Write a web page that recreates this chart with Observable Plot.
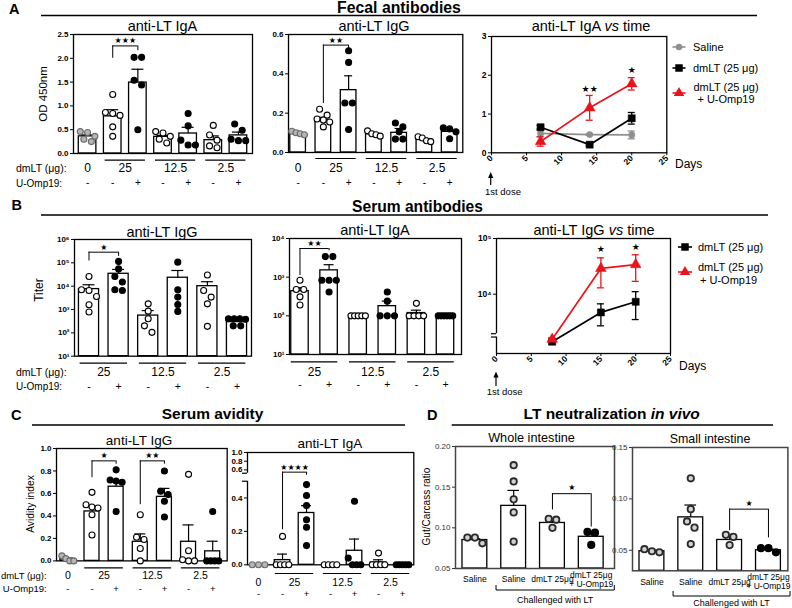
<!DOCTYPE html>
<html><head><meta charset="utf-8">
<script src="https://cdn.jsdelivr.net/npm/d3@7"></script>
<script src="https://cdn.jsdelivr.net/npm/@observablehq/plot@0.6"></script>
<style>
html,body{margin:0;padding:0;background:#fff;}
#root{position:relative;width:792px;height:608px;overflow:hidden;background:#fff;}
</style></head><body><div id="root"></div><script>
// ---------------- DATA ----------------
const bars7 = ["0 -", "25 -", "25 +", "12.5 -", "12.5 +", "2.5 -", "2.5 +"];
const omp7 = ["-", "-", "+", "-", "+", "-", "+"];
const dose7 = ["0", "25", "12.5", "2.5"];
const bars6 = ["25 -", "25 +", "12.5 -", "12.5 +", "2.5 -", "2.5 +"];
const omp6 = ["-", "+", "-", "+", "-", "+"];
const dose6 = ["25", "12.5", "2.5"];

// A – fecal anti-LT IgA (OD 450nm)
const fecalIgA_mean = [0.36, 0.78, 1.49, 0.35, 0.42, 0.28, 0.38];
const fecalIgA_sem = [0.03, 0.14, 0.28, 0.03, 0.13, 0.09, 0.07];
const fecalIgA_pts = [
  [0.46, 0.44, 0.36, 0.30, 0.25],
  [1.24, 0.86, 0.84, 0.80, 0.56, 0.36],
  [2.02, 2.02, 1.54, 1.44, 0.50],
  [0.46, 0.43, 0.36, 0.30, 0.22],
  [0.84, 0.58, 0.28, 0.18, 0.18],
  [0.59, 0.39, 0.28, 0.16, 0.12],
  [0.62, 0.49, 0.30, 0.27, 0.27]];
const fecalIgA_sig = [{from: "25 -", to: "25 +", top: 2.26, left: 2.0, right: 2.16, stars: "★★★"}];

// A – fecal anti-LT IgG
const fecalIgG_mean = [0.095, 0.165, 0.317, 0.093, 0.10, 0.066, 0.105];
const fecalIgG_sem = [0.005, 0.014, 0.073, 0.006, 0.022, 0.007, 0.014];
const fecalIgG_pts = [
  [0.108, 0.10, 0.095, 0.09],
  [0.22, 0.19, 0.17, 0.165, 0.155, 0.13],
  [0.517, 0.458, 0.252, 0.252, 0.117],
  [0.11, 0.095, 0.09, 0.083],
  [0.15, 0.13, 0.105, 0.068, 0.068],
  [0.08, 0.074, 0.06, 0.055],
  [0.125, 0.12, 0.105, 0.07]];
const fecalIgG_sig = [{from: "25 -", to: "25 +", top: 0.546, left: 0.249, right: 0.529, stars: "★★"}];

// A – fecal anti-LT IgA vs time
const fecalDays = [7, 14, 20];
const fecalSaline_mean = [0.50, 0.47, 0.46], fecalSaline_sem = [0.08, 0.02, 0.10];
const fecalDmLT_mean = [0.66, 0.21, 0.89], fecalDmLT_sem = [0.05, 0.03, 0.15];
const fecalOmp_mean = [0.29, 1.16, 1.78], fecalOmp_sem = [0.12, 0.32, 0.16];
const fecalTime_sig = [{day: 14, y: 1.65, stars: "★★"}, {day: 20, y: 2.14, stars: "★"}];

// B – serum anti-LT IgG (titer)
const serumIgG_mean = [7500, 34000, 550, 23000, 10000, 290];
const serumIgG_sem = [4000, 18000, 350, 24000, 5500, 40];
const serumIgG_pts = [
  [26000, 7000, 6500, 3600, 1600, 780],
  [115000, 55000, 26000, 15000, 7000, 6500],
  [1750, 850, 400, 200, 105],
  [107000, 7000, 3400, 1650, 830],
  [30000, 6500, 3400, 1750, 190],
  [400, 400, 400, 380, 200, 200]];
const serumIgG_sig = [{from: "25 -", to: "25 +", top: 2.86e5, left: 1.2e5, right: 1.9e5, stars: "★"}];

// B – serum anti-LT IgA
const serumIgA_mean = [435, 1500, 100, 178, 118, 100];
const serumIgA_sem = [95, 600, 0, 62, 22, 0];
const serumIgA_pts = [
  [830, 480, 480, 310, 190],
  [3400, 3400, 830, 830, 830, 415],
  [100, 100, 100, 100, 100],
  [415, 240, 100, 100, 100],
  [210, 100, 100, 100, 100],
  [100, 100, 100, 100, 100, 100]];
const serumIgA_sig = [{from: "25 -", to: "25 +", top: 5500, left: 1100, right: 4800, stars: "★★"}];

// B – serum anti-LT IgG vs time
const serumDays = [8, 15, 20];
const serumDmLT_mean = [1400, 4700, 7300], serumDmLT_sem = [120, 2000, 3800];
const serumOmp_mean = [1550, 29000, 34000], serumOmp_sem = [100, 16000, 17000];
const serumTime_sig = [{day: 15, y: 64500, stars: "★"}, {day: 20, y: 71000, stars: "★"}];

// C – avidity index
const avidIgG_mean = [0.015, 0.44, 0.66, 0.17, 0.57, 0.17, 0.085];
const avidIgG_sem = [0.01, 0.047, 0.05, 0.07, 0.075, 0.15, 0.09];
const avidIgG_pts = [
  [0.045, 0.02, 0.0, 0.0],
  [0.61, 0.50, 0.48, 0.47, 0.41, 0.23],
  [0.81, 0.72, 0.71, 0.70, 0.44],
  [0.41, 0.21, 0.19, 0.11, 0.0],
  [0.80, 0.62, 0.59, 0.53, 0.39],
  [0.77, 0.09, 0.01, 0.0, 0.0],
  [0.44, 0.0, 0.0, 0.0, 0.0]];
const avidIgG_sig = [
  {from: "25 -", to: "25 +", top: 0.89, left: 0.74, right: 0.86, stars: "★"},
  {from: "12.5 -", to: "12.5 +", top: 0.89, left: 0.50, right: 0.86, stars: "★★"}];

const avidIgA_mean = [0, 0.028, 0.31, 0, 0.084, 0.014, 0];
const avidIgA_sem = [0, 0.036, 0.044, 0, 0.07, 0.016, 0];
const avidIgA_pts = [
  [0, 0, 0],
  [0.17, 0, 0, 0, 0],
  [0.48, 0.415, 0.355, 0.27, 0.225, 0.115],
  [0, 0, 0, 0],
  [0.38, 0.04, 0, 0, 0],
  [0.07, 0, 0, 0, 0],
  [0, 0, 0, 0, 0]];
const avidIgA_sig = [{from: "25 -", to: "25 +", top: 0.58, left: 0.21, right: 0.553, stars: "★★★★"}];
const avidIgA_ticks = [0, 0.2, 0.4, 0.6, 0.8, 1.0];

// D – LT neutralization in vivo
const neutCats = ["Saline", "Saline LT", "dmLT 25μg LT", "dmLT 25μg + U-Omp19 LT"];
const neutLabels = ["Saline", "Saline", "dmLT 25μg", "dmLT 25μg\n+ U-Omp19"];
const neutWhole_mean = [0.085, 0.127, 0.106, 0.089];
const neutWhole_sem = [0.0015, 0.019, 0.002, 0.006];
const neutWhole_pts = [[0.088, 0.081, 0.088], [0.177, 0.157, 0.135, 0.119, 0.083], [0.111, 0.110, 0.100], [0.095, 0.094, 0.079]];
const neutWhole_sig = [{from: "dmLT 25μg LT", to: "dmLT 25μg + U-Omp19 LT", top: 0.142, left: 0.122, right: 0.101, stars: "★"}];
const neutSmall_mean = [0.049, 0.082, 0.060, 0.050];
const neutSmall_sem = [0.001, 0.012, 0.003, 0.001];
const neutSmall_pts = [[0.051, 0.048, 0.049], [0.120, 0.090, 0.078, 0.072, 0.056], [0.065, 0.063, 0.055], [0.052, 0.052, 0.048]];
const neutSmall_sig = [{from: "dmLT 25μg LT", to: "dmLT 25μg + U-Omp19 LT", top: 0.090, left: 0.069, right: 0.062, stars: "★"}];

// ---------------- STYLE / HELPERS ----------------
const FONT = '"Liberation Sans", Arial, Helvetica, sans-serif';
const NARROW = '"Liberation Sans Narrow", "Arial Narrow", "Liberation Sans", sans-serif';
const STARF = '"DejaVu Sans", sans-serif';
const RED = "#e8141c", GREY = "#8f8f8f";
const FILL = {grey: "#b5b5b5", open: "white", filled: "black", ring: "#d2d2d2"};
const STROKE = {grey: "#6b6b6b", open: "black", filled: "black", ring: "#2a2a2a"};
const kinds7 = ["grey", "open", "filled", "open", "filled", "open", "filled"];
const kinds6 = ["open", "filled", "open", "filled", "open", "filled"];
const root = document.getElementById("root");

function groupsOf(cats, doses) {
  return doses.map(g => {
    const idx = cats.map((c, i) => c.split(" ")[0] === g ? i : -1).filter(i => i >= 0);
    return {label: g, a: idx[0], b: idx[idx.length - 1]};
  });
}
function sigOf(cats, sig) {
  return sig.map(s => ({a: cats.indexOf(s.from), b: cats.indexOf(s.to), top: s.top, lb: s.left, rb: s.right, stars: s.stars}));
}
function swarm(pys, gap, maxSpan) {
  const order = pys.map((p, i) => i).sort((a, b) => pys[a] - pys[b]);
  const off = pys.map(() => 0);
  let cl = [], start = 0;
  const flush = () => {
    const m = cl.length;
    const sp = m > 1 ? Math.min(gap, maxSpan / (m - 1)) : 0;
    cl.forEach((idx, k) => off[idx] = (k - (m - 1) / 2) * sp);
    cl = [];
  };
  for (const i of order) {
    if (cl.length && pys[i] - start > gap * 0.9) flush();
    if (!cl.length) start = pys[i];
    cl.push(i);
  }
  flush();
  return off;
}
function mount(plot, left, top) {
  plot.style.position = "absolute";
  plot.style.left = left + "px";
  plot.style.top = top + "px";
  root.appendChild(plot);
}

function barPanel(c) {
  const [x0, y0, x1, y1] = c.frame;
  const mL = 34, mR = 6, mT = 6, mB = 46;
  const W = x1 - x0, H = y1 - y0;
  const tf = c.tf || (v => v);
  const base = c.yDomain[0];
  const step = W / (c.xDomain[1] - c.xDomain[0]);
  const ypx = (c.yType === "log" ? d3.scaleLog() : d3.scaleLinear()).domain(c.yDomain).range([H, 0]);
  const bars = c.cats.map((name, i) => ({i, name, mean: c.mean[i], top: c.mean[i] + c.sem[i], kind: c.kinds[i]}));
  const pts = [];
  c.pts.forEach((vals, i) => {
    const off = swarm(vals.map(v => ypx(tf(v))), c.gap ?? 7.5, c.bw * step - 3);
    vals.forEach((v, j) => pts.push({x: i + off[j] / step, v, kind: c.kinds[i]}));
  });
  const capX = (c.cap ?? 5) / step;
  const errs = bars.filter(d => d.top > d.mean);
  const br = c.sig ? sigOf(c.cats, c.sig) : [];
  const marks = [
    Plot.rectY(bars, {x1: d => d.i - c.bw / 2, x2: d => d.i + c.bw / 2, y1: base, y2: d => tf(d.mean), fill: "white", stroke: "black", strokeWidth: 1.3}),
    Plot.ruleX(errs, {x: "i", y1: d => tf(d.mean), y2: d => tf(d.top), stroke: "black", strokeWidth: 1.2}),
    Plot.ruleY(errs, {y: d => tf(d.top), x1: d => d.i - capX, x2: d => d.i + capX, stroke: "black", strokeWidth: 1.2}),
    Plot.frame({stroke: c.frameColor || "black", strokeWidth: c.frameWidth || 1.3})
  ];
  if (c.breakAt) {
    const xm = c.xDomain[0];
    marks.push(
      Plot.ruleX([0], {x: xm, y1: c.breakAt[0], y2: c.breakAt[1], stroke: "white", strokeWidth: 4}),
      Plot.ruleY(c.breakAt, {y: d => d, x1: xm - 5 / step, x2: xm, stroke: "black", strokeWidth: 1.2})
    );
  }
  marks.push(
    Plot.dot(pts, {x: "x", y: d => tf(d.v), r: c.r ?? 3, fill: d => FILL[d.kind], stroke: d => STROKE[d.kind], strokeWidth: c.sw ?? 1.1}),
    Plot.ruleY(br, {y: d => tf(d.top), x1: "a", x2: "b", stroke: "black", strokeWidth: 1}),
    Plot.ruleX(br, {x: "a", y1: d => tf(d.lb), y2: d => tf(d.top), stroke: "black", strokeWidth: 1}),
    Plot.ruleX(br, {x: "b", y1: d => tf(d.rb), y2: d => tf(d.top), stroke: "black", strokeWidth: 1}),
    Plot.text(br, {x: d => (d.a + d.b) / 2, y: d => tf(d.top), text: "stars", dy: c.starDy ?? -5, fontSize: c.starSize ?? 8, fontFamily: STARF, fontWeight: "normal", fill: "black"})
  );
  if (c.doses) {
    const groups = groupsOf(c.cats, c.doses);
    const lined = groups.filter(g => g.b > g.a);
    marks.push(
      Plot.ruleY(lined, {y: base, x1: d => d.a - 0.3, x2: d => d.b + 0.3, dy: c.dy.line, stroke: "black", strokeWidth: 1.2}),
      Plot.text(groups, {x: d => (d.a + d.b) / 2, y: base, text: "label", dy: c.dy.label, fontSize: c.labelSize, fontWeight: "normal", fill: "black"}),
      Plot.text(bars, {x: "i", y: base, text: d => c.signs[d.i], dy: c.dy.sign, fontSize: c.signSize, fontWeight: "normal", fill: "black"})
    );
  }
  if (c.xLabels) {
    marks.push(Plot.text(bars, {x: "i", y: base, text: d => c.xLabels[d.i], dy: c.dyX, fontSize: 8.5, lineHeight: 1.05, fontFamily: NARROW, fontWeight: "normal", fill: "black"}));
  }
  const plot = Plot.plot({
    width: W + mL + mR, height: H + mT + mB,
    marginLeft: mL, marginRight: mR, marginTop: mT, marginBottom: mB,
    x: {domain: c.xDomain, axis: null},
    y: {type: c.yType || "linear", domain: c.yDomain, ticks: c.yTicks, tickFormat: c.yFormat, tickSize: 3, tickPadding: 2, label: null},
    color: {type: "identity"},
    style: {background: "none", overflow: "visible", fontFamily: FONT, fontSize: (c.tickFont || 8) + "px", fontWeight: c.tickWeight || "bold", color: c.tickColor || "black"},
    marks
  });
  mount(plot, x0 - mL, y0 - mT);
  return {plot, left: x0 - mL, top: y0 - mT};
}

function timePanel(c) {
  const [x0, y0, x1, y1] = c.frame;
  const mL = 26, mR = 6, mT = 6, mB = 26;
  const W = x1 - x0, H = y1 - y0;
  const dayPx = W / 25;
  const capD = 3.5 / dayPx;
  const marks = [Plot.frame({stroke: "black", strokeWidth: 1.3})];
  if (c.breakAt) {
    marks.push(
      Plot.ruleX([0], {x: 0, y1: c.breakAt[0], y2: c.breakAt[1], stroke: "white", strokeWidth: 4}),
      Plot.ruleY(c.breakAt, {y: d => d, x1: -5 / dayPx, x2: 0, stroke: "black", strokeWidth: 1.2})
    );
  }
  c.series.forEach(s => {
    const rows = c.days.map((d, i) => ({day: d, v: s.mean[i], lo: s.mean[i] - s.sem[i], hi: s.mean[i] + s.sem[i]}));
    marks.push(
      Plot.ruleX(rows, {x: "day", y1: "lo", y2: "hi", stroke: s.color, strokeWidth: 1.3}),
      Plot.ruleY(rows, {y: "lo", x1: d => d.day - capD, x2: d => d.day + capD, stroke: s.color, strokeWidth: 1.3}),
      Plot.ruleY(rows, {y: "hi", x1: d => d.day - capD, x2: d => d.day + capD, stroke: s.color, strokeWidth: 1.3}),
      Plot.line(rows, {x: "day", y: "v", stroke: s.color, strokeWidth: 1.7}),
      Plot.dot(rows, {x: "day", y: "v", symbol: s.symbol, r: s.r, fill: s.color, stroke: s.color, strokeWidth: 0.5})
    );
  });
  marks.push(Plot.text(c.sig, {x: "day", y: "y", text: "stars", fontSize: 9, fontFamily: STARF, fontWeight: "normal", fill: "black"}));
  const plot = Plot.plot({
    width: W + mL + mR, height: H + mT + mB,
    marginLeft: mL, marginRight: mR, marginTop: mT, marginBottom: mB,
    x: {domain: [0, 25], ticks: [0, 5, 10, 15, 20, 25], tickFormat: d3.format("d"), tickRotate: -45, tickSize: 3, tickPadding: 1, label: null},
    y: Object.assign({tickSize: 3, tickPadding: 2, label: null}, c.y),
    style: {background: "none", overflow: "visible", fontFamily: FONT, fontSize: "8.5px", fontWeight: "bold", color: "black"},
    marks
  });
  mount(plot, x0 - mL, y0 - mT);
  return {plot, left: x0 - mL, top: y0 - mT};
}

const SUP = {"0": "⁰", "1": "¹", "2": "²", "3": "³", "4": "⁴", "5": "⁵", "6": "⁶"};
const supFmt = d => "10" + SUP[Math.round(Math.log10(d))];
const f1 = d3.format(".1f"), f2 = d3.format(".2f");

// C2 broken axis mapping (value -> display)
function tfC2(v) {
  if (v <= 0.5) return v;
  if (v < 0.6) return 0.5 + (v - 0.5) / 0.1 * 0.068;
  return 0.568 + (v - 0.6) * 0.26;
}
const c2Labels = new Map(avidIgA_ticks.map(t => [tfC2(t).toFixed(4), f1(t)]));

// ---------------- PANELS ----------------
barPanel({frame: [73, 34.3, 252, 153.3], xDomain: [-0.56, 6.56], bw: 0.7, cap: 6,
  cats: bars7, kinds: kinds7, mean: fecalIgA_mean, sem: fecalIgA_sem, pts: fecalIgA_pts, sig: fecalIgA_sig,
  yDomain: [0, 2.5], yTicks: [0, 0.5, 1, 1.5, 2, 2.5], yFormat: f1,
  doses: dose7, signs: omp7, dy: {line: 6.7, label: 14.7, sign: 29.4}, labelSize: 12, signSize: 10});

barPanel({frame: [287.7, 34.3, 462, 152.3], xDomain: [-0.38, 6.52], bw: 0.62, cap: 4,
  cats: bars7, kinds: kinds7, mean: fecalIgG_mean, sem: fecalIgG_sem, pts: fecalIgG_pts, sig: fecalIgG_sig,
  yDomain: [0, 0.6], yTicks: [0, 0.2, 0.4, 0.6], yFormat: f1,
  doses: dose7, signs: omp7, dy: {line: 6, label: 15.7, sign: 30}, labelSize: 12, signSize: 10});

const pA3 = timePanel({frame: [490.7, 36, 666, 152.3], days: fecalDays, sig: fecalTime_sig,
  y: {domain: [0, 3], ticks: [0, 1, 2, 3], tickFormat: d3.format("d")},
  series: [
    {mean: fecalSaline_mean, sem: fecalSaline_sem, color: GREY, symbol: "circle", r: 3.2},
    {mean: fecalDmLT_mean, sem: fecalDmLT_sem, color: "black", symbol: "square", r: 4},
    {mean: fecalOmp_mean, sem: fecalOmp_sem, color: RED, symbol: "triangle", r: 4}]});

barPanel({frame: [74, 239, 251, 355.7], xDomain: [-0.49, 5.49], bw: 0.68, cap: 6,
  cats: bars6, kinds: kinds6, mean: serumIgG_mean, sem: serumIgG_sem, pts: serumIgG_pts, sig: serumIgG_sig,
  yType: "log", yDomain: [10, 1e6], yTicks: [10, 1e2, 1e3, 1e4, 1e5, 1e6], yFormat: supFmt,
  doses: dose6, signs: omp6, dy: {line: 7, label: 16, sign: 30.3}, labelSize: 12, signSize: 10.5});

barPanel({frame: [289, 238.3, 461, 354.3], xDomain: [-0.36, 5.55], bw: 0.6, cap: 5,
  cats: bars6, kinds: kinds6, mean: serumIgA_mean, sem: serumIgA_sem, pts: serumIgA_pts, sig: serumIgA_sig,
  yType: "log", yDomain: [10, 1e4], yTicks: [10, 1e2, 1e3, 1e4], yFormat: supFmt,
  doses: dose6, signs: omp6, dy: {line: 7.4, label: 17.4, sign: 30}, labelSize: 12, signSize: 10.5});

const pB3 = timePanel({frame: [496, 238.3, 670, 353.3], days: serumDays, sig: serumTime_sig,
  breakAt: [1700, 1950],
  y: {type: "log", domain: [860, 1e5], ticks: [1e4, 1e5], tickFormat: supFmt},
  series: [
    {mean: serumDmLT_mean, sem: serumDmLT_sem, color: "black", symbol: "square", r: 4},
    {mean: serumOmp_mean, sem: serumOmp_sem, color: RED, symbol: "triangle", r: 4}]});

barPanel({frame: [56, 448.3, 226.7, 560.7], xDomain: [-0.47, 6.6], bw: 0.62, cap: 5.5,
  cats: bars7, kinds: kinds7, mean: avidIgG_mean, sem: avidIgG_sem, pts: avidIgG_pts, sig: avidIgG_sig,
  yDomain: [0, 1], yTicks: [0, 0.2, 0.4, 0.6, 0.8, 1], yFormat: f1,
  doses: dose7, signs: omp7, dy: {line: 7, label: 14.3, sign: 28.3}, labelSize: 10.5, signSize: 9.5});

barPanel({frame: [246.7, 451.7, 413, 564], xDomain: [-0.46, 6.47], bw: 0.65, cap: 5,
  cats: bars7, kinds: kinds7, mean: avidIgA_mean, sem: avidIgA_sem, pts: avidIgA_pts, sig: avidIgA_sig,
  tf: tfC2, breakAt: [0.5, 0.548],
  yDomain: [0, tfC2(1)], yTicks: avidIgA_ticks.map(tfC2), yFormat: d => c2Labels.get(d.toFixed(4)) ?? "",
  doses: dose7, signs: omp7, dy: {line: 8.7, label: 17.7, sign: 29}, labelSize: 10.5, signSize: 9.5});

const pD1 = barPanel({frame: [455.3, 446, 614.3, 568], xDomain: [-0.5, 3.6], bw: 0.64, cap: 5.8,
  cats: neutCats, kinds: ["ring", "ring", "ring", "filled"], mean: neutWhole_mean, sem: neutWhole_sem, pts: neutWhole_pts, sig: neutWhole_sig,
  yDomain: [0.05, 0.20], yTicks: [0.05, 0.10, 0.15, 0.20], yFormat: f2, tickWeight: "normal", tickFont: 8, tickColor: "#333",
  frameColor: "#444", frameWidth: 1.5, r: 3.2, sw: 1.8, gap: 7.5, starDy: -6,
  xLabels: neutLabels, dyX: 10.8});

const pD2 = barPanel({frame: [632.3, 446.7, 787.7, 570], xDomain: [-0.5, 3.5], bw: 0.64, cap: 5.8,
  cats: neutCats, kinds: ["ring", "ring", "ring", "filled"], mean: neutSmall_mean, sem: neutSmall_sem, pts: neutSmall_pts, sig: neutSmall_sig,
  yDomain: [0.03, 0.15], yTicks: [0.05, 0.10, 0.15], yFormat: f2, tickWeight: "normal", tickFont: 8, tickColor: "#333",
  frameColor: "#444", frameWidth: 1.5, r: 3.2, sw: 1.8, gap: 7.5, starDy: -6,
  xLabels: neutLabels, dyX: 11});

// ---------------- OVERLAY TEXT / DECORATION ----------------
const ov = d3.select(root).append("svg").attr("width", 792).attr("height", 608)
  .style("position", "absolute").style("left", "0px").style("top", "0px").style("overflow", "visible")
  .attr("font-family", FONT);
function T(x, y, parts, size, opt = {}) {
  const t = ov.append("text").attr("x", x).attr("y", y).attr("font-size", size)
    .attr("text-anchor", opt.anchor || "start").attr("font-weight", opt.weight || "normal")
    .attr("fill", opt.color || "black").style("white-space", "pre");
  if (opt.family) t.attr("font-family", opt.family);
  if (opt.rotate) t.attr("transform", `rotate(-90 ${x} ${y})`);
  (Array.isArray(parts) ? parts : [[parts]]).forEach(([s, it]) => t.append("tspan").attr("font-style", it ? "italic" : null).text(s));
  return t;
}
function L(x1, y1, x2, y2, w = 1, col = "black") {
  ov.append("line").attr("x1", x1).attr("y1", y1).attr("x2", x2).attr("y2", y2).attr("stroke", col).attr("stroke-width", w);
}
function sym(type, x, y, size, col) {
  ov.append("path").attr("d", d3.symbol(type, size)()).attr("transform", `translate(${x},${y})`).attr("fill", col);
}
function arrowUp(x, yTop, yBot) {
  L(x, yTop + 4, x, yBot, 1.2);
  ov.append("path").attr("d", `M${x - 2.6},${yTop + 6}L${x},${yTop}L${x + 2.6},${yTop + 6}Z`).attr("fill", "black");
}
const px = (p, v) => p.left + p.plot.scale("x").apply(v);

// panel letters and headers
T(9, 14, "A", 14.5, {weight: "bold"});
T(11.5, 210, "B", 14.5, {weight: "bold"});
T(11, 419.5, "C", 14.5, {weight: "bold"});
T(427, 419.5, "D", 14.5, {weight: "bold"});
T(399, 12.8, "Fecal antibodies", 15.8, {weight: "bold", anchor: "middle"}); L(41, 15.5, 757, 15.5, 1.6);
T(417.5, 212, "Serum antibodies", 15.6, {weight: "bold", anchor: "middle"}); L(41, 215, 768, 215, 1.6);
T(212.5, 419, "Serum avidity", 15.5, {weight: "bold", anchor: "middle"}); L(32, 425, 405, 425, 1.6);
T(611.7, 419, [["LT neutralization "], ["in vivo", true]], 15.5, {weight: "bold", anchor: "middle"}); L(451.7, 425, 773, 425, 1.6);

// subpanel titles
T(162.5, 30.5, "anti-LT IgA", 14.5, {anchor: "middle"});
T(374, 30.5, "anti-LT IgG", 14.5, {anchor: "middle"});
T(591, 30.5, [["anti-LT IgA "], ["vs", true], [" time"]], 14.5, {anchor: "middle"});
T(162, 236.5, "anti-LT IgG", 14.5, {anchor: "middle"});
T(375, 235, "anti-LT IgA", 14.5, {anchor: "middle"});
T(594, 235, [["anti-LT IgG "], ["vs", true], [" time"]], 14.5, {anchor: "middle"});
T(139, 445, "anti-LT IgG", 13.5, {anchor: "middle"});
T(330, 448, "anti-LT IgA", 13.5, {anchor: "middle"});
T(531.5, 442, "Whole intestine", 12.7, {anchor: "middle"});
T(710, 443, "Small intestine", 12.4, {anchor: "middle"});

// y-axis titles
T(47, 94, "OD 450nm", 11.5, {rotate: true, anchor: "middle"});
T(42.5, 290, "Titer", 12, {rotate: true, anchor: "middle"});
T(34, 504, "Avidity index", 10.3, {rotate: true, anchor: "middle"});
T(429.5, 506.5, "Gut/Carcass ratio", 10, {rotate: true, anchor: "middle"});

// row labels
T(16, 172, "dmLT (μg):", 10.5); T(16, 186.5, "U-Omp19:", 10);
T(16, 375.5, "dmLT (μg):", 10.5); T(16, 389.5, "U-Omp19:", 10);
T(46.7, 578.5, "dmLT (μg):", 9.5, {anchor: "end"}); T(46.7, 592.3, "U-Omp19:", 9.5, {anchor: "end"});

// time panels: Days, first dose arrows
T(675, 168, "Days", 12); T(679, 370, "Days", 12);
arrowUp(px(pA3, 0), 172, 185); T(485, 195, "1st dose", 9.5, {family: NARROW});
arrowUp(px(pB3, 0), 371.5, 386); T(486.7, 395, "1st dose", 9.5, {family: NARROW});

// legend A3
L(672.5, 47, 685.5, 47, 1.6, GREY); ov.append("circle").attr("cx", 679).attr("cy", 47).attr("r", 3.2).attr("fill", GREY);
T(693, 51, "Saline", 11);
L(672.5, 68, 685.5, 68, 1.6, "black"); sym(d3.symbolSquare, 679, 68, 56, "black");
T(693, 72, "dmLT (25 μg)", 11);
L(672.5, 93, 685.5, 93, 1.6, RED); sym(d3.symbolTriangle, 679, 93, 48, RED);
T(726, 91, "dmLT (25 μg)", 11, {anchor: "middle"}); T(726, 103, "+ U-Omp19", 11, {anchor: "middle"});
// legend B3
L(678, 247, 692, 247, 1.6, "black"); sym(d3.symbolSquare, 685, 247, 56, "black");
T(698, 251, "dmLT (25 μg)", 11);
L(678, 272, 692, 272, 1.6, RED); sym(d3.symbolTriangle, 685, 272, 48, RED);
T(698, 271, "dmLT (25 μg)", 11); T(700, 284, "+ U-Omp19", 11);

// D: "Challenged with LT" brackets
function challenged(p, span, yLine, yText) {
  const a = px(p, span[0]), b = px(p, span[1]);
  L(a, yLine, b, yLine, 1); L(a, yLine - 5, a, yLine, 1); L(b, yLine - 5, b, yLine, 1);
  T((a + b) / 2, yText, "Challenged with LT", 9, {anchor: "middle"});
}
challenged(pD1, [0.55, 3.6], 590, 603);
challenged(pD2, [0.55, 3.56], 596, 606);
</script></body></html>
